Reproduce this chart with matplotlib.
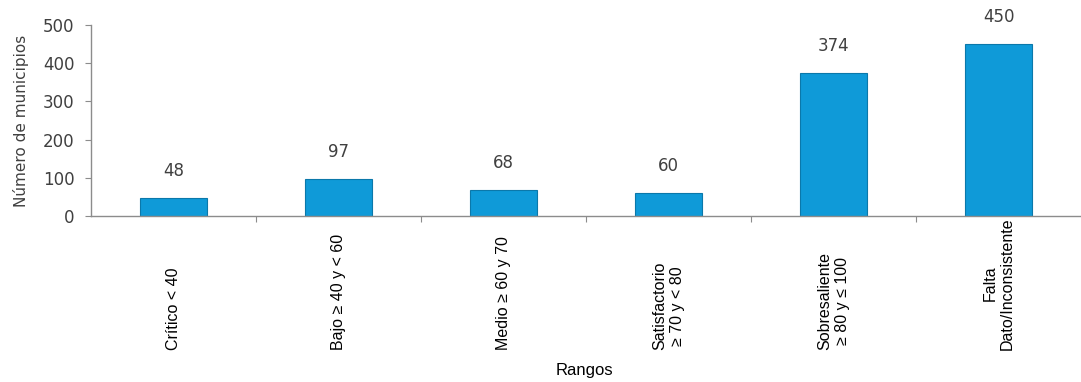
import matplotlib
matplotlib.use("Agg")
import matplotlib.pyplot as plt
import numpy as np

# categories and counts
rangos = ["Crítico < 40",
          "Bajo ≥ 40 y < 60",
          "Medio ≥ 60 y 70",
          "Satisfactorio\n≥ 70 y < 80",
          "Sobresaliente\n≥ 80 y ≤ 100",
          "Falta\nDato/Inconsistente"]
municipios = [48, 97, 68, 60, 374, 450]
yticks = [0, 100, 200, 300, 400, 500]

bar_color = "#0F9AD8"
edge_color = "#0B78AA"
axis_color = "#8C8C8C"
text_gray = "#404040"

fig = plt.figure(figsize=(10.81, 3.82), dpi=100)
ax = fig.add_axes([0.0842, 0.4346, 0.9158, 0.50])

x = np.arange(len(rangos))
bars = ax.bar(x, municipios, width=0.41, color=bar_color,
              edgecolor=edge_color, linewidth=0.8)

ax.set_xlim(-0.5, len(rangos) - 0.5)
ax.set_ylim(0, 500)
ax.set_yticks(yticks)
ax.tick_params(axis="y", colors=axis_color, labelcolor=text_gray,
               labelsize=12, length=4, direction="out", pad=8)

# category separators on x axis
ax.set_xticks(np.arange(len(rangos) - 1) + 0.5)
ax.set_xticklabels([])
ax.tick_params(axis="x", colors=axis_color, length=4, direction="out")

for s in ["top", "right"]:
    ax.spines[s].set_visible(False)
for s in ["left", "bottom"]:
    ax.spines[s].set_color(axis_color)
    ax.spines[s].set_linewidth(1.0)

# value labels above bars
for xi, v in zip(x, municipios):
    ax.annotate(str(v), (xi, v), xytext=(0, 13), textcoords="offset points",
                ha="center", va="bottom", fontsize=12, color=text_gray)

# rotated category labels, bottom aligned at a common line
for xi, lab in zip(x, rangos):
    xd = ax.transData.transform((xi, 0))[0]
    xf = fig.transFigure.inverted().transform((xd, 0))[0]
    fig.text(xf, 0.084, lab, rotation=90, ha="center", va="bottom",
             fontsize=11.5, family="Liberation Sans", color="black")

ax.set_ylabel("Número de municipios", fontsize=11, color=text_gray, labelpad=10)
fig.text(0.541, 0.03, "Rangos", ha="center", va="center",
         fontsize=12, family="Liberation Sans", color="black")

plt.savefig("out.png", dpi=100)
plt.close()
